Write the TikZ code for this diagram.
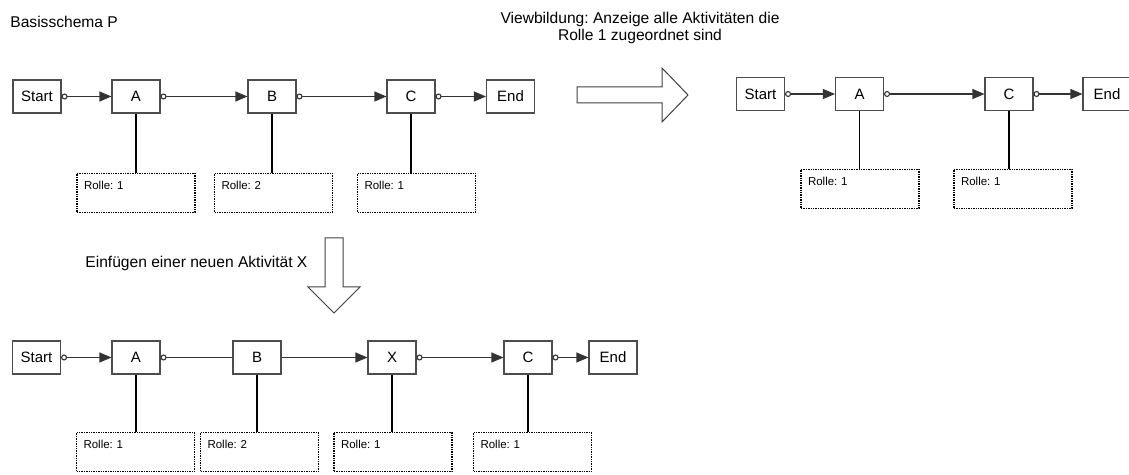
\documentclass[tikz,border=0pt]{standalone}
\usepackage{fontspec}
\setmainfont{Liberation Sans}
\usetikzlibrary{arrows.meta}
\frenchspacing

\tikzset{
  task/.style={draw=black!70, line width=0.55pt, minimum width=24pt,
    minimum height=16.5pt, inner sep=0pt, font=\fontsize{7.5}{9}\selectfont},
  rolle/.style={draw, line width=0.9pt, dash pattern=on 0.7pt off 0.5pt,
    text width=52pt, inner xsep=3.5pt, inner ysep=4pt, text height=4.2pt,
    text depth=7.3pt, align=left, font=\fontsize{5.75}{7}\selectfont},
  title/.style={font=\fontsize{7.8}{8.5}\selectfont, inner sep=0pt},
  flow/.style={draw=black!80, line width=0.55pt,
    {Circle[open,length=3pt,width=3pt]}-{Triangle[length=6pt,width=5pt]}},
  flowout/.style={draw=black!80, line width=0.55pt,
    {Circle[open,length=3pt,width=3pt]}-},
  flowin/.style={draw=black!80, line width=0.55pt,
    -{Triangle[length=6pt,width=5pt]}},
  link/.style={line width=0.6pt},
  hollow/.style={draw=black!75, line width=0.5pt, line join=miter}
}

\begin{document}
\begin{tikzpicture}[x=0.5pt, y=-0.5pt]
  \useasboundingbox (0,0) rectangle (1129,475);

  % captions
  \node[title, anchor=west] (basis) at (10,22) {Basisschema P};
  \node[title, align=center] (view) at (640,28)
    {Viewbildung: Anzeige alle Aktivitäten die\\Rolle 1 zugeordnet sind};
  \node[title, anchor=west] (insert) at (85,263) {Einfügen einer neuen Aktivität X};

  % basis schema
  \node[task] (s1) at (37,96.5) {Start};
  \node[task] (a1) at (136,96.5) {A};
  \node[task] (b1) at (272,96.5) {B};
  \node[task] (c1) at (411,96.5) {C};
  \node[task] (e1) at (510.5,96.5) {End};
  \node[rolle] (ra1) at (136,193) {Rolle: 1};
  \node[rolle] (rb1) at (273.5,193) {Rolle: 2};
  \node[rolle] (rc1) at (416.5,193) {Rolle: 1};
  \draw[flow] (s1) -- (a1);
  \draw[flow] (a1) -- (b1);
  \draw[flow] (b1) -- (c1);
  \draw[flow] (c1) -- (e1);
  \draw[link] (a1) -- (a1 |- ra1.north);
  \draw[link] (b1) -- (b1 |- rb1.north);
  \draw[link] (c1) -- (c1 |- rc1.north);

  % view for role 1
  \node[task] (s2) at (760.5,94) {Start};
  \node[task] (a2) at (859.5,94) {A};
  \node[task] (c2) at (1009,94) {C};
  \node[task] (e2) at (1107,94) {End};
  \node[rolle] (ra2) at (860,189) {Rolle: 1};
  \node[rolle] (rc2) at (1013,189) {Rolle: 1};
  \draw[flow] (s2) -- (a2);
  \draw[flow] (a2) -- (c2);
  \draw[flow] (c2) -- (e2);
  \draw[link] (a2) -- (a2 |- ra2.north);
  \draw[link] (c2) -- (c2 |- rc2.north);

  % schema with X inserted
  \node[task] (s3) at (36.5,357.5) {Start};
  \node[task] (a3) at (136,357.5) {A};
  \node[task] (b3) at (257,357.5) {B};
  \node[task] (x3) at (392,357.5) {X};
  \node[task] (c3) at (528,357.5) {C};
  \node[task] (e3) at (613,357.5) {End};
  \node[rolle] (ra3) at (135.5,452) {Rolle: 1};
  \node[rolle] (rb3) at (259.5,452) {Rolle: 2};
  \node[rolle] (rx3) at (393,452) {Rolle: 1};
  \node[rolle] (rc3) at (532.5,452) {Rolle: 1};
  \draw[flow] (s3) -- (a3);
  \draw[flowout] (a3) -- (b3);
  \draw[flowin] (b3) -- (x3);
  \draw[flow] (x3) -- (c3);
  \draw[flow] (c3) -- (e3);
  \draw[link] (a3) -- (a3 |- ra3.north);
  \draw[link] (b3) -- (b3 |- rb3.north);
  \draw[link] (x3) -- (x3 |- rx3.north);
  \draw[link] (c3) -- (c3 |- rc3.north);

  % block arrows
  \draw[hollow] (577,87) -- (662,87) -- (662,68) -- (688,95) -- (662,122)
    -- (662,103) -- (577,103) -- cycle;
  \draw[hollow] (325,238) -- (343,238) -- (343,287) -- (360,287) -- (334,313)
    -- (308,287) -- (325,287) -- cycle;
\end{tikzpicture}
\end{document}
